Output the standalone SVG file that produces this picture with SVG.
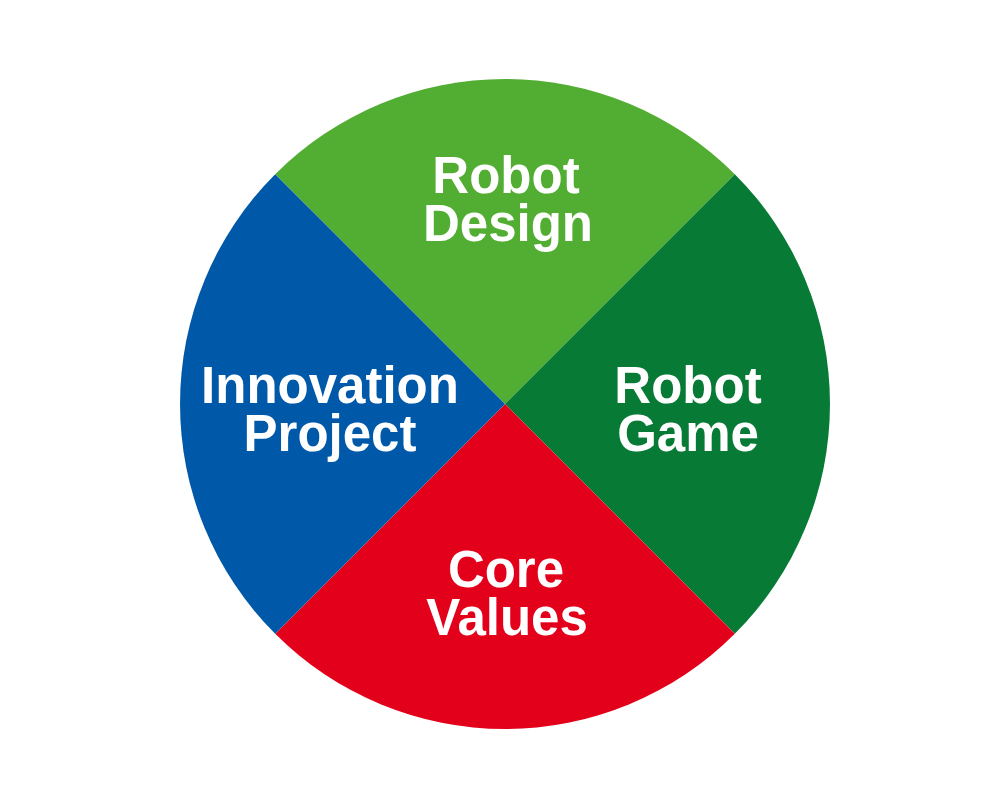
<svg xmlns="http://www.w3.org/2000/svg" width="1005" height="809" viewBox="0 0 1005 809">
<style>
.t{font-family:"Liberation Sans",Arial,sans-serif;font-weight:bold;font-size:51px;fill:#fff;text-anchor:middle}
</style>
<rect width="1005" height="809" fill="#fff"/>
<g id="robot-design">
<path d="M505,404 L275.2,174.2 A325,325 0 0 1 734.8,174.2 Z" fill="#52AE32"/>
<text class="t" x="506" y="193">Robot</text>
<text class="t" x="508" y="241">Design</text>
</g>
<g id="robot-game">
<path d="M505,404 L734.8,174.2 A325,325 0 0 1 734.8,633.8 Z" fill="#077A35"/>
<text class="t" x="688" y="403">Robot</text>
<text class="t" x="688" y="451">Game</text>
</g>
<g id="core-values">
<path d="M505,404 L734.8,633.8 A325,325 0 0 1 275.2,633.8 Z" fill="#E2001A"/>
<text class="t" x="506" y="587">Core</text>
<text class="t" x="507" y="635">Values</text>
</g>
<g id="innovation-project">
<path d="M505,404 L275.2,633.8 A325,325 0 0 1 275.2,174.2 Z" fill="#0059A8"/>
<text class="t" x="330" y="403">Innovation</text>
<text class="t" x="330" y="451">Project</text>
</g>
<g id="connectors"/>
</svg>
